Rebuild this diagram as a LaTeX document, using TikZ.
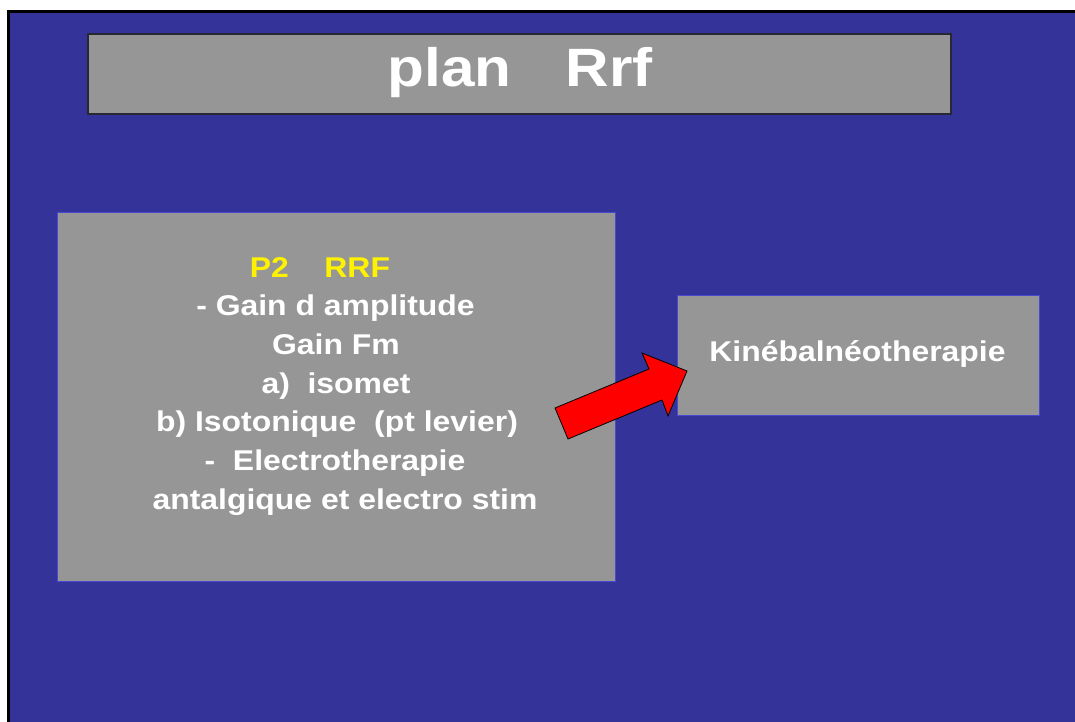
\documentclass[tikz,border=0pt]{standalone}
\usepackage{fontspec}
\setmainfont[FakeStretch=1.116]{Liberation Sans}
\definecolor{slideblue}{RGB}{51,51,153}
\definecolor{boxgray}{RGB}{150,150,150}
\definecolor{edgeblue}{RGB}{72,72,208}
\definecolor{titleedge}{RGB}{40,40,50}
\definecolor{arrowred}{RGB}{255,0,0}
\tikzset{
  graybox/.style={fill=boxgray, draw=edgeblue, line width=1pt},
  titlebox/.style={fill=boxgray, draw=titleedge, line width=1.5pt},
  bodyline/.style={anchor=base, inner sep=0pt, text=white, font=\fontsize{28.6}{38}\selectfont\bfseries},
  titletext/.style={anchor=base, inner sep=0pt, text=white, font=\fontsize{54}{64}\selectfont\bfseries},
  blockarrow/.style={fill=arrowred, draw=black, line width=0.8pt, line join=miter}
}
\begin{document}
\begin{tikzpicture}[x=1pt,y=-1pt]
\useasboundingbox (0,0) rectangle (1075,722);
\fill[white] (0,0) rectangle (1075,722);
\fill[black] (7,10) rectangle (1076,723);
\fill[slideblue] (10,13) rectangle (1076,723);
% title
\draw[titlebox] (88,34) rectangle (951,114);
\node[titletext] (title) at (520,87) {plan~~~\hspace{4pt}Rrf};
% left box
\draw[graybox] (57,212) rectangle (615,581);
\node[bodyline, text=yellow] (l1) at (320,277) {P2~~~~RRF};
\node[bodyline] (l2) at (335.5,315.7) {- Gain d amplitude};
\node[bodyline] (l3) at (336,354.4) {Gain Fm};
\node[bodyline] (l4) at (336,393.1) {a)~~isomet};
\node[bodyline] (l5) at (337,431.8) {b) Isotonique~~(pt levier)};
\node[bodyline] (l6) at (335,470.5) {-~~Electrotherapie};
\node[bodyline] (l7) at (345,509.2) {antalgique et electro stim};
% right box
\draw[graybox] (677,295) rectangle (1039,415);
\node[bodyline] (kine) at (857.5,361.5) {Kinébalnéotherapie};
% block arrow
\draw[blockarrow] (568,439) -- (555,408) -- (649,369) -- (642,353) -- (687,371) -- (668,416) -- (662,400) -- cycle;
\end{tikzpicture}
\end{document}
